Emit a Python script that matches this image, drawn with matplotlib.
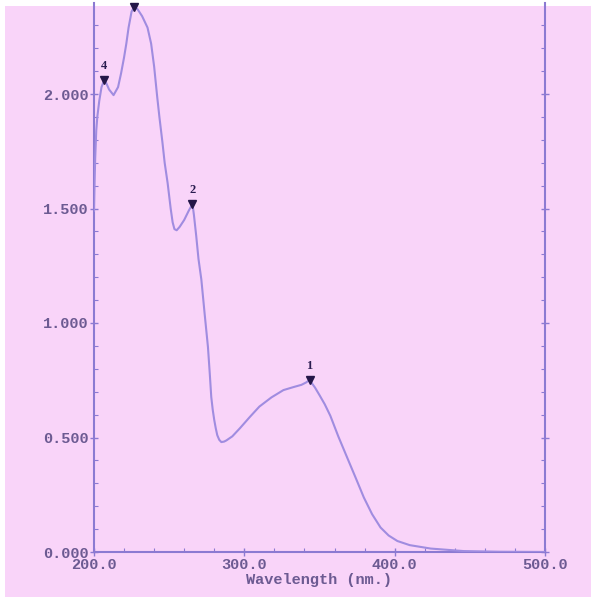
import matplotlib
matplotlib.use("Agg")
import matplotlib.pyplot as plt
from matplotlib.patches import Rectangle
from matplotlib.ticker import MultipleLocator, FormatStrFormatter

# UV spectrum (wavelength in nm, absorbance)
wavelength = [200, 200.4, 200.8, 201.5, 202.2, 203.5, 205, 206.7, 208, 210,
              213, 216, 218, 220, 221.5, 223, 225, 226.8, 229, 232, 235.6,
              238, 240, 242, 243.5, 245.5, 247, 249, 251, 252.3, 253.5, 255,
              257, 260, 263, 265.5, 266.5, 268, 269.5, 271.4, 273.6, 275.8,
              277, 278, 279, 280, 281, 282, 283.3, 284.7, 286.5, 288,
              292, 297, 303.7, 310, 318, 326, 332.6, 338, 341, 343.4, 347,
              350, 353.5, 357.2, 362.5, 368.3, 374, 379.5, 385, 390.6, 396,
              401.8, 410, 424, 446, 470, 500]
absorbance = [1.49, 1.62, 1.72, 1.84, 1.90, 1.97, 2.03, 2.06, 2.05, 2.02,
              1.995, 2.03, 2.09, 2.16, 2.22, 2.29, 2.36, 2.38, 2.37, 2.34,
              2.29, 2.22, 2.12, 1.99, 1.90, 1.79, 1.70, 1.61, 1.50, 1.44,
              1.41, 1.405, 1.42, 1.45, 1.49, 1.52, 1.47, 1.38, 1.28, 1.19,
              1.04, 0.895, 0.78, 0.677, 0.62, 0.576, 0.54, 0.51, 0.49, 0.48,
              0.482, 0.487, 0.505, 0.54, 0.59, 0.635, 0.675, 0.707, 0.72,
              0.73, 0.74, 0.751, 0.718, 0.685, 0.645, 0.595, 0.505, 0.414,
              0.325, 0.238, 0.165, 0.107, 0.072, 0.048, 0.03, 0.015, 0.004,
              0.001, 0.0]

# peak markers; the top one has its number cut off in the scan
peak_wl = [206.7, 226.8, 265.5, 343.4]
peak_abs = [2.06, 2.38, 1.52, 0.751]
# numbered peaks (label, wavelength, absorbance)
label_txt = ["4", "2", "1"]
label_wl = [206.7, 265.5, 343.4]
label_abs = [2.06, 1.52, 0.751]

pink = "#f9d4f9"
line_col = "#a08ce0"
axis_col = "#8c7ad2"
text_col = "#6c5a92"
mono = ["Liberation Mono", "DejaVu Sans Mono"]

fig = plt.figure(figsize=(5.92, 6.0), dpi=100, facecolor="white")
# pink panel with a thin white border, like the scan
fig.patches.append(Rectangle((5/592, 3/600), 586/592, 591/600,
                             transform=fig.transFigure, facecolor=pink,
                             edgecolor="none", zorder=-10))

ax = fig.add_axes([94/592, 48/600, 451/592, 549/600])
ax.set_facecolor("none")
ax.set_zorder(1)

ax.plot(wavelength, absorbance, color=line_col, lw=1.5, zorder=3)

# peak markers and their numbers
ax.plot(peak_wl, peak_abs, linestyle="none", marker="v", ms=6,
        color="#241648", zorder=4, clip_on=False)
for lab, x, y in zip(label_txt, label_wl, label_abs):
    ax.annotate(lab, (x, y), xytext=(0, 6), textcoords="offset points",
                ha="center", va="bottom", fontsize=9, fontweight="bold",
                family="Liberation Serif", color="#2a1c50")

ax.set_xlim(200, 500)
ax.set_ylim(0, 549/229)

ax.xaxis.set_major_locator(MultipleLocator(100))
ax.xaxis.set_minor_locator(MultipleLocator(20))
ax.yaxis.set_major_locator(MultipleLocator(0.5))
ax.yaxis.set_minor_locator(MultipleLocator(0.1))
ax.xaxis.set_major_formatter(FormatStrFormatter("%.1f"))
ax.yaxis.set_major_formatter(FormatStrFormatter("%.3f"))

for side in ["left", "right", "bottom"]:
    ax.spines[side].set_color(axis_col)
    ax.spines[side].set_linewidth(1.5)
ax.spines["top"].set_visible(False)

ax.tick_params(which="major", direction="inout", length=6, width=1,
               color=axis_col, labelcolor=text_col, right=True)
ax.tick_params(which="minor", direction="in", length=3, width=0.8,
               color=axis_col, right=True)
ax.tick_params(axis="x", which="major", pad=1)
ax.tick_params(axis="y", which="major", pad=1)
for t in ax.get_xticklabels() + ax.get_yticklabels():
    t.set_family(mono)
    t.set_fontweight("bold")
    t.set_fontsize(11)

ax.set_xlabel("Wavelength (nm.)", family=mono, fontweight="bold",
              fontsize=11, color=text_col, labelpad=1)

fig.savefig("out.png", dpi=100, facecolor=fig.get_facecolor())
